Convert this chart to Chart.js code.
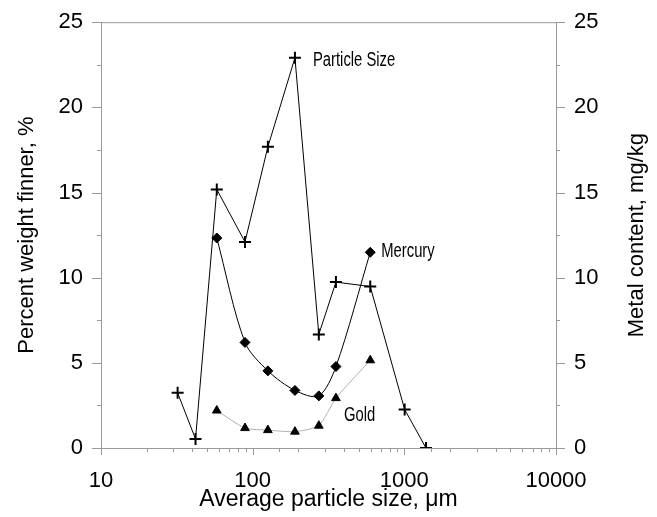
<!DOCTYPE html>
<html>
<head>
<meta charset="utf-8">
<script src="https://cdn.jsdelivr.net/npm/chart.js@4"></script>
<style>
  html, body { margin: 0; padding: 0; background: #fff; }
  #wrap { width: 657px; height: 517px; }
</style>
</head>
<body>
<div id="wrap"><canvas id="myChart" width="657" height="517"></canvas></div>
<script>
// particle size series (left axis)
const particleX = [32, 42, 58, 89, 126, 190, 273, 354, 596, 1005, 1390];
const particleY = [3.24, 0.53, 15.18, 12.1, 17.68, 22.91, 6.67, 9.74, 9.48, 2.26, 0];

// metal content series (right axis)
const metalX = [58, 89, 126, 190, 273, 354, 596];
const mercuryY = [12.33, 6.2, 4.53, 3.38, 3.06, 4.78, 11.49];
const goldY = [2.2, 1.17, 1.05, 0.96, 1.31, 2.93, 5.15];

const xTicks = [10, 100, 1000, 10000];
const yTicks = [0, 5, 10, 15, 20, 25];

const toPoints = (xs, ys) => xs.map((x, i) => ({ x: x, y: ys[i] }));

const FONT = "'Liberation Sans', Arial, sans-serif";
const AXIS_GRAY = '#9a9a9a';

// tick marks, top border, right title and series labels
const extras = {
    id: 'extras',
    afterDraw(chart) {
        const ctx = chart.ctx;
        const area = chart.chartArea;
        const sx = chart.scales.x, sy = chart.scales.y, sy1 = chart.scales.y1;
        ctx.save();
        ctx.strokeStyle = AXIS_GRAY;
        ctx.lineWidth = 1;
        ctx.beginPath();
        ctx.moveTo(area.left, area.top + 0.5);
        ctx.lineTo(area.right, area.top + 0.5);
        sx.ticks.forEach(t => {
            const px = Math.round(sx.getPixelForValue(t.value)) + 0.5;
            const len = xTicks.includes(t.value) ? 7 : 4;
            ctx.moveTo(px, area.bottom);
            ctx.lineTo(px, area.bottom + len);
        });
        sy.ticks.forEach(t => {
            const py = Math.round(sy.getPixelForValue(t.value)) + 0.5;
            const len = yTicks.includes(t.value) ? 9 : 4;
            ctx.moveTo(area.left - len, py);
            ctx.lineTo(area.left, py);
        });
        sy1.ticks.forEach(t => {
            const py = Math.round(sy1.getPixelForValue(t.value)) + 0.5;
            const len = yTicks.includes(t.value) ? 9 : 4;
            ctx.moveTo(area.right, py);
            ctx.lineTo(area.right + len, py);
        });
        ctx.stroke();

        // right axis title, reading bottom to top
        ctx.fillStyle = '#000';
        ctx.font = '22px ' + FONT;
        ctx.textAlign = 'center';
        ctx.textBaseline = 'middle';
        ctx.translate(637, (area.top + area.bottom) / 2);
        ctx.rotate(-Math.PI / 2);
        ctx.fillText('Metal content, mg/kg', 0, 0);
        ctx.restore();

        // series labels next to the curves
        const label = (text, xv, yv, scale, dx, dy) => {
            const px = sx.getPixelForValue(xv) + dx;
            const py = scale.getPixelForValue(yv) + dy;
            ctx.save();
            ctx.fillStyle = '#000';
            ctx.font = '20px ' + FONT;
            ctx.textBaseline = 'alphabetic';
            ctx.translate(px, py);
            ctx.scale(0.74, 1);
            ctx.fillText(text, 0, 0);
            ctx.restore();
        };
        label('Particle Size', particleX[5], particleY[5], sy, 18, 8);
        label('Mercury', metalX[6], mercuryY[6], sy1, 11, 5);
        label('Gold', metalX[5], goldY[5], sy1, 8, 23);
    }
};

const dataChart = {
    datasets: [{
        label: 'Particle Size',
        data: toPoints(particleX, particleY),
        yAxisID: 'y',
        borderColor: '#000',
        borderWidth: 1,
        pointStyle: 'cross',
        pointRadius: 6,
        pointBorderWidth: 2,
        pointBorderColor: '#000',
        tension: 0
    },
    {
        label: 'Mercury',
        data: toPoints(metalX, mercuryY),
        yAxisID: 'y1',
        borderColor: '#000',
        borderWidth: 1,
        pointStyle: 'rectRot',
        pointRadius: 5,
        pointBackgroundColor: '#000',
        pointBorderColor: '#000',
        pointBorderWidth: 1,
        tension: 0.3
    },
    {
        label: 'Gold',
        data: toPoints(metalX, goldY),
        yAxisID: 'y1',
        borderColor: '#b0b0b0',
        borderWidth: 1,
        pointStyle: 'triangle',
        pointRadius: 5,
        pointBackgroundColor: '#000',
        pointBorderColor: '#000',
        pointBorderWidth: 1,
        tension: 0.2
    }]
};

const tickFont = { family: FONT, size: 22 };
const yScale = (position) => ({
    position: position,
    min: 0,
    max: 25,
    afterFit: (s) => { s.width = 101; },
    ticks: {
        stepSize: 2.5,
        color: '#000',
        font: tickFont,
        padding: 9,
        callback: (v) => (v % 5 === 0 ? String(v) : '')
    },
    grid: { drawOnChartArea: false, drawTicks: true, tickLength: 9, tickColor: 'rgba(0,0,0,0)' },
    border: { color: AXIS_GRAY, width: 1 }
});

const configChart = {
    type: 'line',
    data: dataChart,
    plugins: [extras],
    options: {
        responsive: false,
        animation: false,
        layout: { padding: { top: 21, left: 0, right: 0, bottom: 0 } },
        plugins: { legend: { display: false }, tooltip: { enabled: false } },
        scales: {
            x: {
                type: 'logarithmic',
                position: 'bottom',
                min: 10,
                max: 10000,
                afterFit: (s) => { s.height = 69; },
                ticks: {
                    autoSkip: false,
                    maxRotation: 0,
                    color: '#000',
                    font: tickFont,
                    padding: 11,
                    callback: (v) => (xTicks.includes(v) ? String(v) : '')
                },
                grid: { drawOnChartArea: false, drawTicks: true, tickLength: 9, tickColor: 'rgba(0,0,0,0)' },
                border: { color: AXIS_GRAY, width: 1 },
                title: {
                    display: true,
                    text: 'Average particle size, μm',
                    color: '#000',
                    font: { family: FONT, size: 23 },
                    padding: { top: 0, bottom: 4 }
                }
            },
            y: Object.assign(yScale('left'), {
                title: {
                    display: true,
                    text: 'Percent weight finner, %',
                    color: '#000',
                    font: { family: FONT, size: 22 },
                    padding: { top: 14, bottom: 0 }
                }
            }),
            y1: yScale('right')
        }
    }
};

const myChart = new Chart(document.getElementById('myChart'), configChart);
</script>
</body>
</html>
